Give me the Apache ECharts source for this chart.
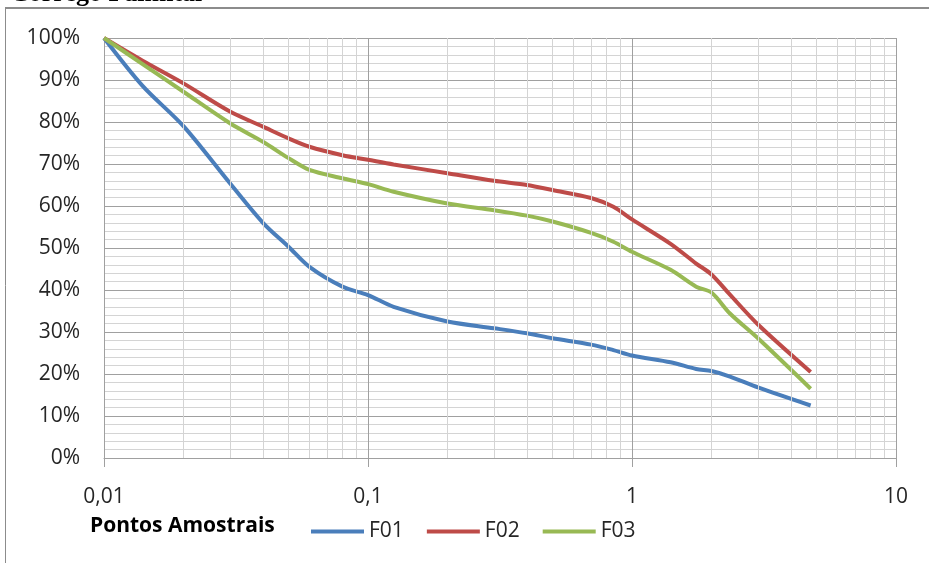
<!DOCTYPE html>
<html>
<head>
<meta charset="utf-8">
<script src="https://cdn.jsdelivr.net/npm/echarts@6/dist/echarts.min.js"></script>
<style>
  html, body { margin: 0; padding: 0; background: #fff; }
  #chart { width: 929px; height: 563px; }
</style>
</head>
<body>
<div id="chart"></div>
<script>
// Percentual acumulado por diâmetro (escala logarítmica) - Córrego Palmital
const diametros = [0.01, 0.014, 0.02, 0.03, 0.04, 0.05, 0.06, 0.08, 0.1, 0.125, 0.2, 0.3, 0.4, 0.5, 0.7, 0.85, 1.0, 1.4, 1.75, 2.0, 2.35, 3.0, 4.75];
const f01 = [100, 88.6, 79.0, 65.4, 56.0, 50.3, 45.5, 40.8, 38.8, 36.0, 32.5, 30.9, 29.7, 28.5, 27.0, 25.7, 24.4, 22.8, 21.2, 20.7, 19.4, 16.8, 12.5];
const f02 = [100, 94.6, 89.2, 82.5, 78.9, 76.1, 74.1, 72.1, 71.0, 69.9, 67.8, 66.0, 65.0, 63.8, 61.9, 59.8, 56.8, 51.0, 46.3, 43.7, 38.9, 31.8, 20.5];
const f03 = [100, 93.8, 87.2, 79.7, 75.3, 71.4, 68.6, 66.6, 65.2, 63.4, 60.6, 59.0, 57.7, 56.3, 53.6, 51.5, 49.1, 44.8, 40.8, 39.4, 34.4, 28.5, 16.5];
const nomesSeries = ['F01', 'F02', 'F03'];
const coresSeries = ['#4a7ebb', '#be4b48', '#98b954'];
const tituloLegenda = 'Pontos Amostrais';
const titulo = 'Córrego Palmital';

// secondary vertical grid lines at 2..9 of each decade
const gradeMenorX = [];
[0.01, 0.1, 1].forEach(function (d) {
  for (let m = 2; m <= 9; m++) gradeMenorX.push(+(d * m).toPrecision(3));
});

const fonte = '"Open Sans", Lato, sans-serif';
const chart = echarts.init(document.getElementById('chart'), null, { renderer: 'canvas' });

function pares(ys) { return diametros.map(function (x, i) { return [x, ys[i]]; }); }

const series = [
  {
    name: 'grade', type: 'line', data: [], z: 1, silent: true,
    markLine: {
      silent: true, symbol: 'none', animation: false,
      label: { show: false },
      lineStyle: { color: '#d4d4d4', width: 1, type: 'solid' },
      data: gradeMenorX.map(function (v) { return { xAxis: v }; })
    }
  }
];
[f01, f02, f03].forEach(function (ys, i) {
  series.push({
    name: nomesSeries[i], type: 'line', data: pares(ys), z: 3,
    smooth: 0.3, showSymbol: false, symbol: 'none',
    lineStyle: { color: coresSeries[i], width: 4 },
    itemStyle: { color: coresSeries[i] }
  });
});

chart.setOption({
  animation: false,
  backgroundColor: '#fff',
  grid: { left: 104, right: 33, top: 38, bottom: 105, containLabel: false },
  xAxis: {
    type: 'log', logBase: 10, min: 0.01, max: 10,
    axisLine: { show: true, lineStyle: { color: '#a0a0a0', width: 1 } },
    axisTick: { show: true, length: 9, lineStyle: { color: '#a0a0a0' } },
    splitLine: { show: true, lineStyle: { color: '#a0a0a0', width: 1 } },
    axisLabel: {
      margin: 29, fontFamily: fonte, fontSize: 21, color: '#262626',
      formatter: function (v) { return String(+(+v).toPrecision(3)).replace('.', ','); }
    }
  },
  yAxis: {
    type: 'value', min: 0, max: 100, interval: 10,
    axisLine: { show: true, lineStyle: { color: '#a0a0a0', width: 1 } },
    axisTick: { show: false },
    minorTick: { show: false, splitNumber: 5 },
    splitLine: { show: true, lineStyle: { color: '#a0a0a0', width: 1 } },
    minorSplitLine: { show: true, lineStyle: { color: '#d4d4d4', width: 1 } },
    axisLabel: {
      margin: 24, fontFamily: fonte, fontSize: 21, color: '#262626',
      formatter: '{value}%'
    }
  },
  legend: {
    data: nomesSeries, left: 306, top: 516, icon: 'rect',
    itemWidth: 53, itemHeight: 4, itemGap: 23,
    textStyle: { fontFamily: fonte, fontSize: 21, color: '#262626' }
  },
  graphic: [
    { type: 'text', left: 10, top: -19, silent: true,
      style: { text: titulo, font: 'bold 26px "Liberation Serif", serif', fill: '#000' } },
    { type: 'line', silent: true, shape: { x1: 5, y1: 8, x2: 929, y2: 8 },
      style: { stroke: '#8c8c8c', lineWidth: 2 } },
    { type: 'line', silent: true, shape: { x1: 5.5, y1: 8, x2: 5.5, y2: 563 },
      style: { stroke: '#8c8c8c', lineWidth: 1 } },
    { type: 'text', left: 90, top: 516, silent: true,
      style: { text: tituloLegenda, font: 'bold 21px "Open Sans", Lato, sans-serif', fill: '#000' } }
  ],
  series: series
});
</script>
</body>
</html>
